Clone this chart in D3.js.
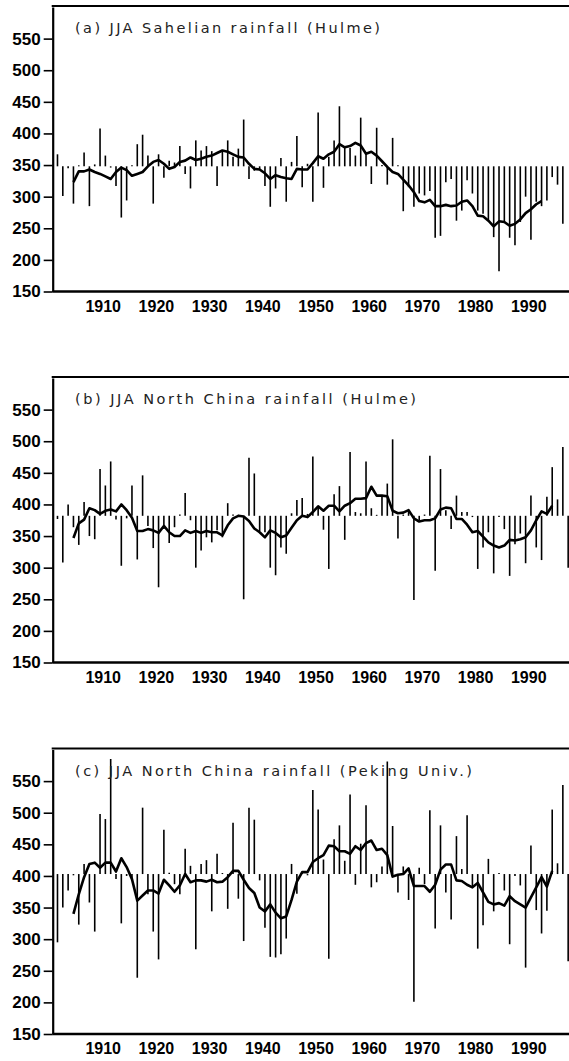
<!DOCTYPE html>
<html>
<head>
<meta charset="utf-8">
<script src="https://cdn.jsdelivr.net/npm/d3@7"></script>
<style>
  body { margin: 0; background: #fff; }
  svg { display: block; }
  .tick text { font-family: "Liberation Sans", Arial, sans-serif; font-weight: bold; fill: #000; }
  .title { font-family: "DejaVu Sans", sans-serif; font-weight: normal; fill: #222; }
</style>
</head>
<body>
<div id="viz"></div>
<script>
// annual JJA rainfall, 1901-1997 (bar for each year, drawn from the mean)
let years = d3.range(1901, 1998);

let sahelHulme = [
  367,301,345,289,347,370,285,351,408,365,
  346,317,267,294,348,383,398,365,289,367,
  330,357,354,380,336,313,389,373,380,372,
  317,371,389,363,376,422,328,341,344,317,
  284,313,361,292,355,396,315,352,292,433,
  314,363,389,443,378,377,365,425,368,320,
  409,350,319,393,347,277,315,284,305,302,
  309,235,238,323,328,262,278,326,305,278,
  273,263,236,182,260,235,223,260,300,232,
  292,285,294,331,319,257,null];

let chinaHulme = [
  377,308,400,364,336,404,350,345,456,430,
  468,376,303,378,430,313,446,366,331,269,
  361,339,364,384,418,375,300,327,348,340,
  359,348,402,384,381,250,474,449,358,356,
  300,288,332,322,386,407,410,385,476,397,
  360,298,416,429,344,483,388,386,468,394,
  381,412,433,503,346,384,390,249,375,384,
  477,295,456,391,361,414,388,388,380,298,
  332,356,291,380,361,287,337,354,307,414,
  332,312,412,459,408,491,300];

let chinaPeking = [
  295,350,377,401,323,419,358,312,498,490,
  585,395,325,400,393,239,508,371,312,268,
  473,405,387,371,443,416,284,419,425,344,
  435,404,348,484,364,297,508,489,393,318,
  272,271,276,301,419,372,406,401,536,505,
  426,269,458,480,424,529,386,451,512,382,
  390,415,581,479,374,415,362,201,413,387,
  504,317,480,374,331,463,411,496,384,285,
  322,427,344,402,377,292,400,385,255,448,
  346,309,345,505,420,544,265];

// smoothed curves, starting 1904
let sahelSmooth = [
  323,340,340,343,339,336,332,328,339,346,
  342,333,336,339,348,355,358,352,344,347,
  355,357,362,358,360,363,365,369,373,371,
  367,363,362,352,344,343,337,328,334,331,
  329,328,344,343,343,353,364,360,367,371,
  383,378,380,385,381,368,371,365,356,347,
  339,336,327,318,307,293,291,295,285,285,
  287,285,286,292,294,285,270,269,262,253,
  261,260,254,257,264,274,280,288,293];

let chinaHulmeSmooth = [
  347,370,376,394,391,385,390,392,389,400,
  391,379,358,358,361,359,355,366,356,350,
  350,359,355,358,355,358,356,356,351,367,
  378,382,381,374,362,356,348,359,355,348,
  351,363,375,382,380,388,397,390,398,398,
  389,398,402,409,409,410,428,414,414,413,
  390,386,387,391,378,373,375,375,378,392,
  395,394,377,377,368,356,358,349,340,335,
  332,335,344,343,345,348,359,375,389,385,
  398];

let chinaPekingSmooth = [
  340,371,398,419,421,413,421,421,407,428,
  414,395,361,369,377,377,372,394,385,375,
  385,403,390,393,393,391,394,390,391,398,
  408,408,394,381,373,350,344,355,342,333,
  336,362,391,406,406,422,428,433,448,447,
  439,439,435,447,441,452,456,441,443,433,
  399,402,403,412,384,384,384,375,386,410,
  418,418,393,392,386,382,389,374,359,355,
  357,353,368,360,355,350,366,382,398,383,
  408];

let smoothStart = 1904;
let titles = ["(a) JJA Sahelian rainfall (Hulme)",
              "(b) JJA North China rainfall (Hulme)",
              "(c) JJA North China rainfall (Peking Univ.)"];
let baselines = [348, 382, 403];
let yTicks = [150,200,250,300,350,400,450,500,550];
let xTicks = [1910,1920,1930,1940,1950,1960,1970,1980,1990];

let panels = [
  {bars: sahelHulme,  smooth: sahelSmooth,       title: titles[0], base: baselines[0], top: 7,     titleW: 305},
  {bars: chinaHulme,  smooth: chinaHulmeSmooth,  title: titles[1], base: baselines[1], top: 378,   titleW: 341},
  {bars: chinaPeking, smooth: chinaPekingSmooth, title: titles[2], base: baselines[2], top: 749.5, titleW: 397}
];

let width = 569, height = 1061,
    left = 52.7, right = 568.7,
    panelH = 284.5;

let svg = d3.select('#viz').append('svg')
    .attr('width', width)
    .attr('height', height);

// data sit at mid-year (July), ticks at Jan 1
let xScale = d3.scaleLinear()
    .domain([1900.6, 1997.6])
    .range([left, right]);

panels.forEach(function(p){
  let yScale = d3.scaleLinear()
      .domain([150, 600])
      .range([p.top + panelH, p.top]);

  let g = svg.append('g');

  // bars from the mean
  g.selectAll('line.bar').data(years.map(function(y,i){ return {year:y, v:p.bars[i]}; })
        .filter(function(d){ return d.v != null; }))
    .enter().append('line')
      .attr('class','bar')
      .attr('x1', function(d){ return xScale(d.year + 0.5); })
      .attr('x2', function(d){ return xScale(d.year + 0.5); })
      .attr('y1', yScale(p.base))
      .attr('y2', function(d){
        let y = yScale(d.v);
        // keep a hairline for years right on the mean
        if (Math.abs(y - yScale(p.base)) < 1) y = yScale(p.base) - 1;
        return y;
      })
      .style('stroke','#000')
      .style('stroke-width',1.6);

  // smoothed curve
  let line = d3.line()
      .x(function(d,i){ return xScale(smoothStart + i + 0.5); })
      .y(function(d){ return yScale(d); });
  g.append('path')
      .datum(p.smooth)
      .attr('d', line)
      .style('fill','none')
      .style('stroke','#000')
      .style('stroke-width',2.6)
      .style('stroke-linejoin','round');

  // axes
  let yAxis = d3.axisLeft(yScale)
      .tickValues(yTicks)
      .tickSizeInner(9)
      .tickSizeOuter(0)
      .tickPadding(3);
  let yG = g.append('g')
      .attr('transform','translate(' + left + ',0)')
      .call(yAxis);
  yG.select('.domain').style('stroke-width',2.2);
  yG.selectAll('.tick line').style('stroke-width',1.6);
  yG.selectAll('.tick text').style('font-size','17px');

  let xAxis = d3.axisBottom(xScale)
      .tickValues(xTicks)
      .tickFormat(d3.format('d'))
      .tickSizeInner(0)
      .tickSizeOuter(0)
      .tickPadding(9);
  let xG = g.append('g')
      .attr('transform','translate(0,' + (p.top + panelH) + ')')
      .call(xAxis);
  xG.select('.domain').style('stroke-width',2.4).attr('d','M' + left + ',0H' + width);
  xG.selectAll('.tick text').style('font-size','16px');

  // top frame
  g.append('line')
      .attr('x1', left - 1).attr('x2', width)
      .attr('y1', p.top - 1).attr('y2', p.top - 1)
      .style('stroke','#000')
      .style('stroke-width',2.2);

  g.append('text')
      .attr('class','title')
      .attr('x', 75)
      .attr('y', p.top + 26)
      .attr('textLength', p.titleW)
      .attr('lengthAdjust','spacing')
      .style('font-size','14.5px')
      .text(p.title);
});
</script>
</body>
</html>
